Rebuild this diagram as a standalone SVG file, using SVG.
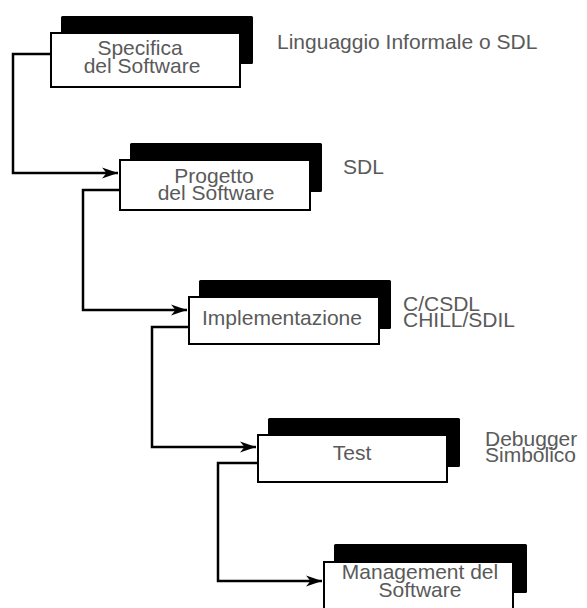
<svg xmlns="http://www.w3.org/2000/svg" width="587" height="608" viewBox="0 0 587 608">
  <defs>
    <marker id="arrow" markerUnits="userSpaceOnUse" markerWidth="17" markerHeight="13" refX="16" refY="6.5" orient="auto">
      <path d="M16,6.5 L0,1 L4.5,6.5 L0,12 Z" fill="#000"/>
    </marker>
    <style>
      .shadow { fill: #000; }
      .box { fill: #fff; stroke: #000; stroke-width: 2; }
      .lbl { font-family: "Liberation Sans", Arial, sans-serif; font-size: 21px; fill: #5a5a5a; text-anchor: middle; }
      .note { font-family: "Liberation Sans", Arial, sans-serif; font-size: 21px; fill: #5a5a5a; }
      .conn { fill: none; stroke: #000; stroke-width: 2.5; stroke-linejoin: miter; }
    </style>
  </defs>
  <rect width="587" height="608" fill="#fff"/>

  <!-- connectors between phases -->
  <g id="connectors">
    <path class="conn" d="M50,54 H13 V173 H118" marker-end="url(#arrow)"/>
    <path class="conn" d="M119,190 H83 V310 H187" marker-end="url(#arrow)"/>
    <path class="conn" d="M188,327 H152 V447 H256" marker-end="url(#arrow)"/>
    <path class="conn" d="M257,463 H218 V581 H322" marker-end="url(#arrow)"/>
  </g>

  <g id="specifica">
    <rect class="shadow" x="61" y="16" width="192" height="48" rx="1.5"/>
    <rect class="box" x="51" y="33" width="189" height="54"/>
    <text class="lbl" x="140" y="55">Specifica</text>
    <text class="lbl" x="142" y="73">del Software</text>
  </g>

  <g id="progetto">
    <rect class="shadow" x="130" y="143" width="192" height="49" rx="1.5"/>
    <rect class="box" x="120" y="160" width="190" height="50"/>
    <text class="lbl" x="214" y="183">Progetto</text>
    <text class="lbl" x="216" y="200">del Software</text>
  </g>

  <g id="implementazione">
    <rect class="shadow" x="199" y="280" width="192" height="49" rx="1.5"/>
    <rect class="box" x="189" y="297" width="190" height="47"/>
    <text class="lbl" x="282" y="325">Implementazione</text>
  </g>

  <g id="test">
    <rect class="shadow" x="268" y="418" width="192" height="49" rx="1.5"/>
    <rect class="box" x="258" y="435" width="189" height="47"/>
    <text class="lbl" x="352" y="460">Test</text>
  </g>

  <g id="management">
    <rect class="shadow" x="334" y="544" width="193" height="49" rx="1.5"/>
    <rect class="box" x="324" y="562" width="189" height="60"/>
    <text class="lbl" x="420" y="579">Management del</text>
    <text class="lbl" x="420" y="597">Software</text>
  </g>

  <!-- languages and tools for each phase -->
  <g id="notes">
    <text class="note" x="277" y="49">Linguaggio Informale o SDL</text>
    <text class="note" x="343" y="174">SDL</text>
    <text class="note" x="403" y="311">C/CSDL</text>
    <text class="note" x="403" y="327">CHILL/SDIL</text>
    <text class="note" x="485" y="446">Debugger</text>
    <text class="note" x="485" y="462">Simbolico</text>
  </g>
</svg>
